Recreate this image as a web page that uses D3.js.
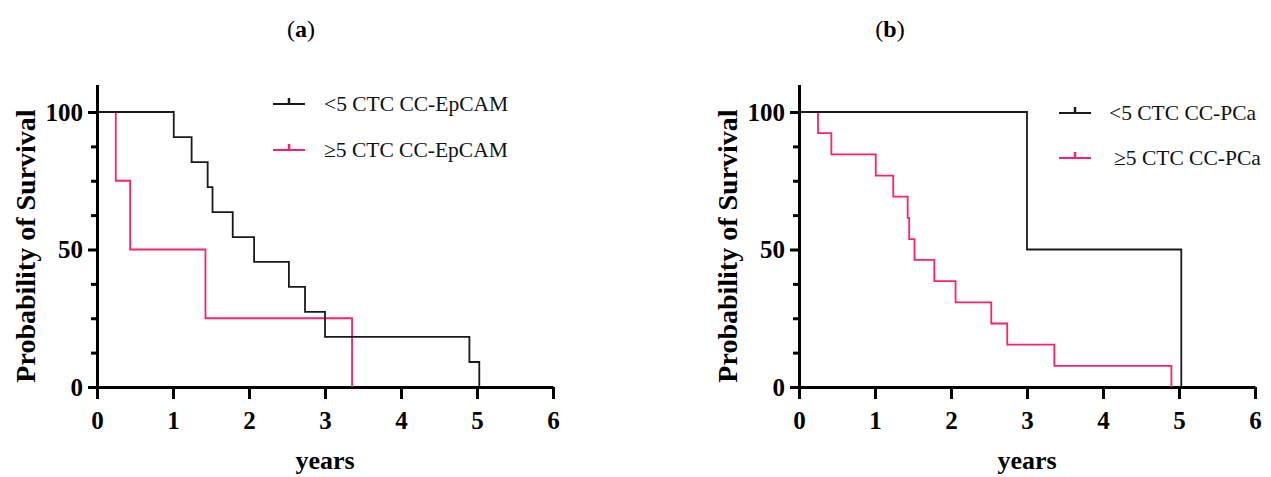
<!DOCTYPE html>
<html>
<head>
<meta charset="utf-8">
<script src="https://cdn.jsdelivr.net/npm/d3@7"></script>
<style>
    body { margin: 0; background: #fff; }
    svg { display: block; }
</style>
</head>
<body>
<svg id="chart" width="1271" height="477"></svg>
<script>
// kaplan-meier survival, two panels (a) EpCAM and (b) PCa

// panel a
const epcamLowYears = [0, 1.01, 1.245, 1.456, 1.52, 1.786, 2.067, 2.525, 2.737, 3.0, 4.9, 5.03];
const epcamLowSurv = [100, 90.9, 81.8, 72.7, 63.6, 54.5, 45.5, 36.4, 27.3, 18.2, 9.1, 0];
const epcamHighYears = [0, 0.247, 0.436, 1.427, 3.356];
const epcamHighSurv = [100, 75, 50, 25, 0];

// panel b
const pcaLowYears = [0, 3.0, 5.03];
const pcaLowSurv = [100, 50, 0];
const pcaHighYears = [0, 0.25, 0.426, 1.01, 1.24, 1.43, 1.45, 1.52, 1.78, 2.06, 2.53, 2.74, 3.36, 4.9];
const pcaHighSurv = [100, 92.3, 84.6, 76.9, 69.2, 61.5, 53.8, 46.2, 38.5, 30.8, 23.1, 15.4, 7.7, 0];

const panelTitles = ['a', 'b'];
const legendA = ['<5 CTC CC-EpCAM', '\u22655 CTC CC-EpCAM'];
const legendB = ['<5 CTC CC-PCa', '\u22655 CTC CC-PCa'];
const xTicks = [0, 1, 2, 3, 4, 5, 6];
const yTicks = [0, 50, 100];
const yMinorTicks = [12.5, 25, 37.5, 62.5, 75, 87.5];
const yLabel = 'Probability of Survival';
const xLabel = 'years';

const black = '#1a1a1a';
const pink = '#ff1f6e';
const serif = '"Liberation Serif", "Times New Roman", serif';

let svg = d3.select('#chart');

function zip(xs, ys) {
    return xs.map((x, i) => ({ t: x, s: ys[i] }));
}

function drawPanel(opts) {
    let g = svg.append('g')
        .attr('transform', `translate(${opts.left},0)`);

    let xScale = d3.scaleLinear()
        .domain([0, 6])
        .range([0, 456]);

    let yScale = d3.scaleLinear()
        .domain([0, 110])
        .range([387, 84.5]);

    //minor y ticks (no labels)
    g.append('g')
        .call(d3.axisLeft(yScale).tickValues(yMinorTicks).tickSize(6).tickSizeOuter(0).tickFormat(''))
        .call(a => a.select('.domain').remove())
        .selectAll('line').attr('stroke', '#000').attr('stroke-width', 3);

    //major y axis
    let yAx = g.append('g')
        .call(d3.axisLeft(yScale).tickValues(yTicks).tickSize(9).tickSizeOuter(0).tickPadding(5));
    yAx.select('.domain').attr('stroke', '#000').attr('stroke-width', 3);
    yAx.selectAll('line').attr('stroke', '#000').attr('stroke-width', 3);
    yAx.selectAll('text')
        .attr('font-family', serif)
        .attr('font-weight', 'bold')
        .attr('font-size', '25px')
        .attr('fill', '#000');

    //x axis
    let xAx = g.append('g')
        .attr('transform', `translate(0,${yScale(0)})`)
        .call(d3.axisBottom(xScale).tickValues(xTicks).tickFormat(d3.format('d'))
            .tickSize(12).tickSizeOuter(0).tickPadding(12));
    xAx.select('.domain').attr('stroke', '#000').attr('stroke-width', 3);
    xAx.selectAll('line').attr('stroke', '#000').attr('stroke-width', 3);
    xAx.selectAll('text')
        .attr('font-family', serif)
        .attr('font-weight', 'bold')
        .attr('font-size', '25px')
        .attr('fill', '#000');

    //step lines
    let lineFun = d3.line()
        .x(d => xScale(d.t))
        .y(d => yScale(d.s))
        .curve(d3.curveStepAfter);

    g.append('path')
        .attr('d', lineFun(zip(opts.highYears, opts.highSurv)))
        .attr('fill', 'none')
        .attr('stroke', pink)
        .attr('stroke-width', 1.8);

    g.append('path')
        .attr('d', lineFun(zip(opts.lowYears, opts.lowSurv)))
        .attr('fill', 'none')
        .attr('stroke', black)
        .attr('stroke-width', 1.8);

    //legend
    let colors = [black, pink];
    opts.legend.forEach((name, i) => {
        let ly = opts.legendY[i];
        let lg = g.append('g');
        lg.append('line')
            .attr('x1', opts.legendX).attr('x2', opts.legendX + 32)
            .attr('y1', ly).attr('y2', ly)
            .attr('stroke', colors[i]).attr('stroke-width', 2);
        lg.append('line')
            .attr('x1', opts.legendX + 16).attr('x2', opts.legendX + 16)
            .attr('y1', ly).attr('y2', ly - 6)
            .attr('stroke', colors[i]).attr('stroke-width', 2.5);
        lg.append('text')
            .attr('x', opts.legendX + opts.textGap[i])
            .attr('y', ly + 7)
            .attr('font-family', serif)
            .attr('font-size', '21.5px')
            .attr('fill', '#111')
            .text(name);
    });

    //y axis title
    g.append('text')
        .attr('transform', `translate(${-62},246) rotate(-90)`)
        .attr('text-anchor', 'middle')
        .attr('font-family', serif)
        .attr('font-weight', 'bold')
        .attr('font-size', '28px')
        .text(yLabel);

    //x axis title
    g.append('text')
        .attr('x', xScale(3))
        .attr('y', 469)
        .attr('text-anchor', 'middle')
        .attr('font-family', serif)
        .attr('font-weight', 'bold')
        .attr('font-size', '26px')
        .text(xLabel);

    //panel letter
    let title = g.append('text')
        .attr('x', opts.titleX)
        .attr('y', 37)
        .attr('text-anchor', 'middle')
        .attr('font-family', serif)
        .attr('font-size', '24px');
    title.append('tspan').text('(');
    title.append('tspan').attr('font-weight', 'bold').text(opts.title);
    title.append('tspan').text(')');
}

drawPanel({
    left: 97,
    title: panelTitles[0],
    titleX: 204,
    lowYears: epcamLowYears, lowSurv: epcamLowSurv,
    highYears: epcamHighYears, highSurv: epcamHighSurv,
    legend: legendA,
    legendX: 176,
    legendY: [104, 150],
    textGap: [51, 51]
});

drawPanel({
    left: 799,
    title: panelTitles[1],
    titleX: 91,
    lowYears: pcaLowYears, lowSurv: pcaLowSurv,
    highYears: pcaHighYears, highSurv: pcaHighSurv,
    legend: legendB,
    legendX: 260,
    legendY: [113, 158],
    textGap: [50, 55]
});
</script>
</body>
</html>
